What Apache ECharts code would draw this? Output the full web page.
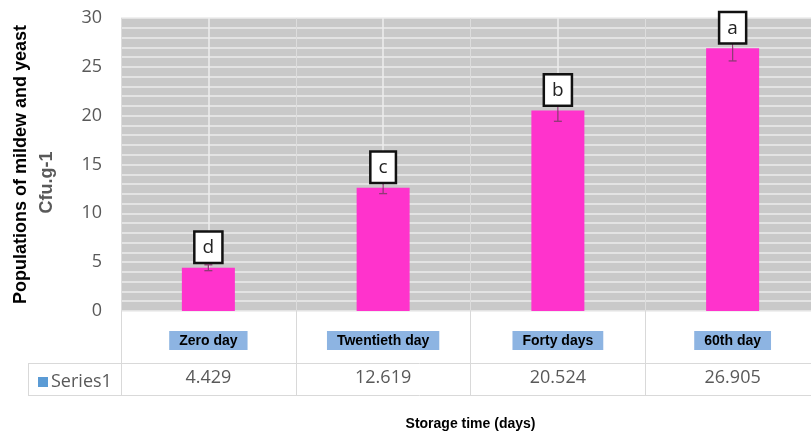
<!DOCTYPE html>
<html>
<head>
<meta charset="utf-8">
<script src="https://cdn.jsdelivr.net/npm/echarts@6/dist/echarts.min.js"></script>
<style>
html,body{margin:0;padding:0;background:#fff;}
#chart{width:811px;height:432px;}
</style>
</head>
<body>
<div id="chart"></div>
<script>
const categories = ['Zero day', 'Twentieth day', 'Forty days', '60th day'];
const values = [4.429, 12.619, 20.524, 26.905];
const errors = [0.3, 0.6, 1.1, 1.3];
const letters = ['d', 'c', 'b', 'a'];
const seriesName = 'Series1';
const yMin = 0, yMax = 30, yInterval = 5;

const chart = echarts.init(document.getElementById('chart'));
const lineCol = '#d9d9d9';

const option = {
  animation: false,
  grid: {
    left: 121, top: 18, right: -9, bottom: 121,
    outerBoundsMode: 'none',
    containLabel: false,
    show: true, backgroundColor: '#c9c9c9', borderWidth: 0
  },
  legend: {
    left: 33, top: 368,
    icon: 'rect', itemWidth: 10, itemHeight: 10, itemGap: 6,
    data: [{ name: seriesName, itemStyle: { color: '#5b9bd5' } }],
    textStyle: { fontFamily: 'Open Sans', fontSize: 18, color: '#595959', padding: [0, 0, 0, -2] }
  },
  xAxis: [
    {
      type: 'category',
      data: categories,
      position: 'bottom',
      boundaryGap: true,
      axisLine: { show: false },
      axisTick: { show: true, length: 84, lineStyle: { color: lineCol, width: 1 } },
      splitLine: { show: true, lineStyle: { color: '#dcdcdc', width: 1 } },
      axisLabel: {
        margin: 20,
        fontFamily: 'Liberation Sans', fontWeight: 'bold', fontSize: 14, color: '#000',
        backgroundColor: '#8db4e2', padding: [3, 10, 2, 10]
      },
      name: 'Storage time (days)',
      nameLocation: 'middle',
      nameGap: 106,
      nameTextStyle: { fontFamily: 'Liberation Sans', fontWeight: 'bold', fontSize: 14, color: '#000' }
    },
    {
      type: 'category',
      data: values.map(v => v.toFixed(3)),
      position: 'bottom',
      boundaryGap: true,
      axisLine: { show: false },
      axisTick: { show: false },
      splitLine: { show: true, alignWithLabel: true, lineStyle: { color: '#ececec', width: 1.5 } },
      axisLabel: { margin: 58, fontFamily: 'Open Sans', fontSize: 18, color: '#595959' }
    }
  ],
  yAxis: {
    type: 'value',
    min: yMin, max: yMax, interval: yInterval,
    axisLine: { show: false },
    axisTick: { show: false },
    splitLine: { show: true, lineStyle: { color: '#ebebeb', width: 1.5 } },
    minorTick: { show: false, splitNumber: 5 },
    minorSplitLine: { show: true, lineStyle: { color: '#ebebeb', width: 1.5 } },
    axisLabel: { margin: 19, fontFamily: 'Open Sans', fontSize: 18, color: '#595959' },
    name: '{a|Populations of mildew and yeast}\n{b|Cfu.g-1}',
    nameLocation: 'middle',
    nameRotate: 90,
    nameGap: 61,
    nameTextStyle: {
      rich: {
        a: { fontFamily: 'Liberation Sans', fontWeight: 'bold', fontSize: 18, color: '#000', lineHeight: 26 },
        b: { fontFamily: 'Liberation Sans', fontWeight: 'bold', fontSize: 18, color: '#595959', lineHeight: 26, padding: [0, 36, 0, 0] }
      }
    }
  },
  series: [
    {
      name: seriesName,
      type: 'bar',
      xAxisIndex: 0,
      data: values,
      barWidth: 53,
      itemStyle: { color: '#ff33cc' },
      z: 2
    },
    {
      name: 'err',
      type: 'custom',
      xAxisIndex: 0,
      z: 3,
      data: values.map((v, i) => [i, v, errors[i]]),
      renderItem: function (params, api) {
        const i = api.value(0), v = api.value(1), e = api.value(2);
        const top = api.coord([i, v + e]);
        const bot = api.coord([i, v - e]);
        const barTop = api.coord([i, v]);
        const cw = 4;
        const st = { stroke: '#8e3b76', lineWidth: 1.3 };
        return {
          type: 'group',
          children: [
            { type: 'line', shape: { x1: top[0], y1: top[1], x2: bot[0], y2: bot[1] }, style: st },
            { type: 'line', shape: { x1: top[0] - cw, y1: top[1], x2: top[0] + cw, y2: top[1] }, style: st },
            { type: 'line', shape: { x1: bot[0] - cw, y1: bot[1], x2: bot[0] + cw, y2: bot[1] }, style: st },
            {
              type: 'text',
              x: barTop[0], y: barTop[1] - 6,
              style: {
                text: letters[params.dataIndex],
                align: 'center', verticalAlign: 'bottom',
                fontFamily: 'Open Sans', fontSize: 19, lineHeight: 22,
                fill: '#222',
                backgroundColor: '#fff', borderColor: '#111', borderWidth: 2.5,
                padding: [4, 7, 3, 7]
              }
            }
          ]
        };
      }
    }
  ],
  graphic: [
    { type: 'line', shape: { x1: 28, y1: 363.5, x2: 811, y2: 363.5 }, style: { stroke: lineCol, lineWidth: 1 } },
    { type: 'line', shape: { x1: 28, y1: 395.5, x2: 811, y2: 395.5 }, style: { stroke: lineCol, lineWidth: 1 } },
    { type: 'line', shape: { x1: 28.5, y1: 363, x2: 28.5, y2: 396 }, style: { stroke: lineCol, lineWidth: 1 } }
  ]
};
chart.setOption(option);
</script>
</body>
</html>
